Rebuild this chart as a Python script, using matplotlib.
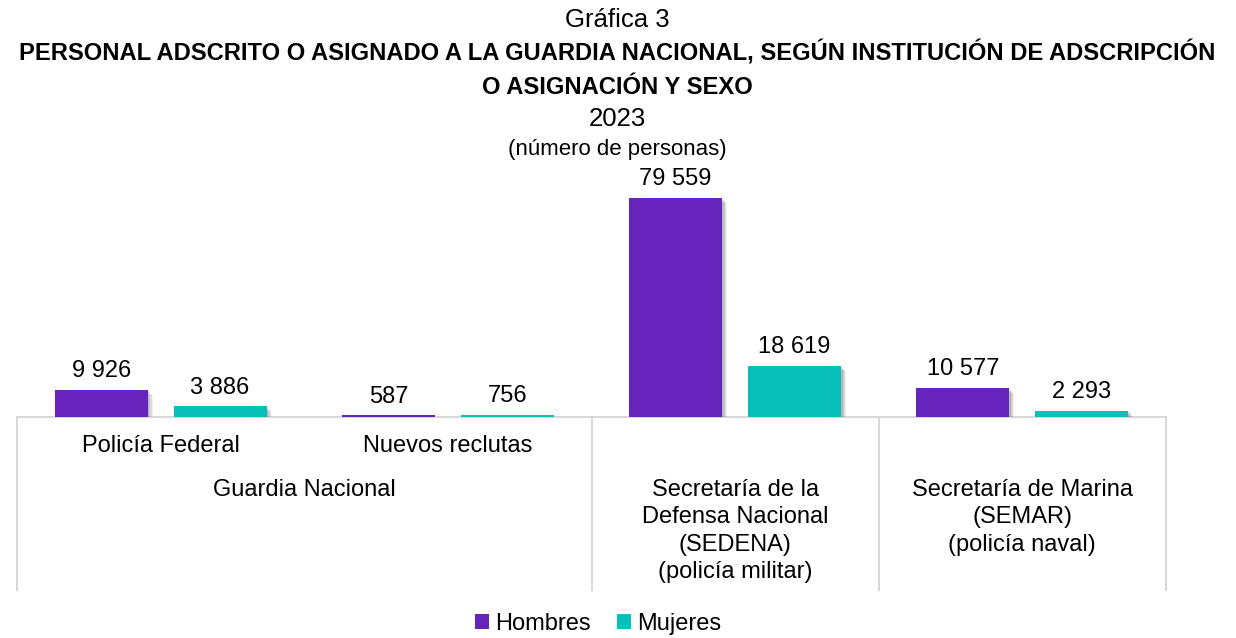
import matplotlib
matplotlib.use("Agg")
import matplotlib.pyplot as plt
import matplotlib.patheffects as pe
from matplotlib.patches import Patch
import numpy as np

plt.rcParams['font.family'] = ['Liberation Sans', 'DejaVu Sans']

categories = ["Policía Federal", "Nuevos reclutas",
              "Secretaría de la\nDefensa Nacional\n(SEDENA)\n(policía militar)",
              "Secretaría de Marina\n(SEMAR)\n(policía naval)"]
hombres = [9926, 587, 79559, 10577]
mujeres = [3886, 756, 18619, 2293]
series_names = ["Hombres", "Mujeres"]
colors = ["#6724BD", "#08BFBA"]

def fmt(v):
    return f"{v:,}".replace(",", " ")

W, H = 1236, 638
fig = plt.figure(figsize=(W/100, H/100), dpi=100)

left_px, right_px = 17, 1166
base_px = 417
ymax = 90000
height_px = ymax / 79559 * 219
ax = fig.add_axes([left_px/W, (H-base_px)/H, (right_px-left_px)/W, height_px/H])
ax.set_xlim(-0.5, 3.5)
ax.set_ylim(0, ymax)
ax.axis('off')

FS = 17
x = np.arange(len(categories))
w = 0.324
off = 0.207
shadow = [pe.SimplePatchShadow(offset=(o, -o), shadow_rgbFace='#707070', alpha=a)
          for o, a in [(3.5, 0.10), (2.8, 0.14), (2.0, 0.18), (1.2, 0.2)]] + [pe.Normal()]
for vals, sign, col in [(hombres, -1, colors[0]), (mujeres, 1, colors[1])]:
    bars = ax.bar(x + sign*off, vals, width=w, color=col, zorder=3)
    for b in bars:
        b.set_path_effects(shadow)
    for xi, v in zip(x + sign*off, vals):
        ax.annotate(fmt(v), (xi, v), xytext=(0, 5.5), textcoords='offset points',
                    ha='center', va='bottom', fontsize=FS, color='black')

# baseline and separators
gc = '#D9D9D9'
ax.plot([-0.5, 3.5], [0, 0], color=gc, lw=1.5, zorder=2, clip_on=False)
trans = ax.get_xaxis_transform()
sep_bottom = -(590 - base_px) / height_px
for sx in [-0.5, 1.5, 2.5, 3.5]:
    ax.plot([sx, sx], [0, sep_bottom], color=gc, lw=1.5, transform=trans, clip_on=False)

def yfrac(py):
    return -(py - base_px) / height_px

# category labels
ax.text(0, yfrac(446), categories[0], transform=trans, ha='center', va='center', fontsize=FS)
ax.text(1, yfrac(446), categories[1], transform=trans, ha='center', va='center', fontsize=FS)
ax.text(0.5, yfrac(490), "Guardia Nacional", transform=trans, ha='center', va='center', fontsize=FS)
ax.text(2, yfrac(479), categories[2], transform=trans, ha='center', va='top', fontsize=FS, linespacing=1.32)
ax.text(3, yfrac(479), categories[3], transform=trans, ha='center', va='top', fontsize=FS, linespacing=1.32)

# titles
fig.text(617/W, 1-20/H, "Gráfica 3", ha='center', va='center', fontsize=18.5)
fig.text(617/W, 1-53/H, "PERSONAL ADSCRITO O ASIGNADO A LA GUARDIA NACIONAL, SEGÚN INSTITUCIÓN DE ADSCRIPCIÓN",
         ha='center', va='center', fontsize=17.1, fontweight='bold')
fig.text(617/W, 1-87/H, "O ASIGNACIÓN Y SEXO", ha='center', va='center', fontsize=17.1, fontweight='bold')
fig.text(617/W, 1-119/H, "2023", ha='center', va='center', fontsize=18.5)
fig.text(617/W, 1-150/H, "(número de personas)", ha='center', va='center', fontsize=16)

handles = [Patch(facecolor=c, label=n) for c, n in zip(colors, series_names)]
fig.legend(handles=handles, loc='center', bbox_to_anchor=(598/W, 1-624/H), ncol=2,
           frameon=False, fontsize=FS, handlelength=0.6, handleheight=0.6,
           handletextpad=0.25, columnspacing=1.1)

fig.savefig("out.png", dpi=100)
